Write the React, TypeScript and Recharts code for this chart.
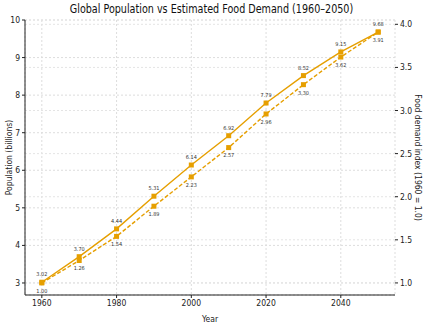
import { CartesianGrid, LabelList, Line, LineChart, XAxis, YAxis } from 'recharts'

const years = [1960, 1970, 1980, 1990, 2000, 2010, 2020, 2030, 2040, 2050]
const population = [3.02, 3.7, 4.44, 5.31, 6.14, 6.92, 7.79, 8.52, 9.15, 9.68]
const foodIndex = [1.0, 1.26, 1.54, 1.89, 2.23, 2.57, 2.96, 3.3, 3.62, 3.91]

const yearTicks = [1960, 1980, 2000, 2020, 2040]
const popTicks = [3, 4, 5, 6, 7, 8, 9, 10]
const foodTicks = [1.0, 1.5, 2.0, 2.5, 3.0, 3.5, 4.0]

const ORANGE = '#E69F00'
const FONT = '"DejaVu Sans Condensed", "DejaVu Sans", sans-serif'

const data = years.map((year, i) => ({ year, population: population[i], food: foodIndex[i] }))

const Square = (props: any) => {
  const { cx, cy } = props
  if (cx == null || cy == null) return null
  return <rect x={cx - 2.5} y={cy - 2.5} width={5} height={5} fill={ORANGE} />
}

const tick = { fontSize: 8.5, fill: '#222', fontFamily: FONT }
const labelStyle = { fontSize: 8.5, fill: '#222', fontFamily: FONT, textAnchor: 'middle' as const }
const pointLabel = { fontSize: 5.5, fill: '#333', fontFamily: FONT }

export default function App() {
  return (
    <div style={{ position: 'absolute', left: 0, top: 0, width: 423, height: 325, background: '#fff' }}>
      <div
        style={{
          position: 'absolute',
          top: 2,
          left: 0,
          width: 423,
          textAlign: 'center',
          fontFamily: 'DejaVu Sans, sans-serif',
          fontSize: 12,
          color: '#111',
          transform: 'scaleX(0.8)',
          whiteSpace: 'nowrap',
        }}
      >
        Global Population vs Estimated Food Demand (1960–2050)
      </div>
      <LineChart width={423} height={325} data={data} margin={{ top: 20, right: 0, bottom: 0, left: 0 }}>
        <CartesianGrid yAxisId="left" stroke="#ddd" strokeDasharray="2 2" />
        <CartesianGrid yAxisId="right" vertical={false} stroke="#e4e4e4" strokeDasharray="2 2" />
        <XAxis
          dataKey="year"
          type="number"
          domain={[1955.5, 2054.5]}
          ticks={yearTicks}
          tick={tick}
          height={30}
          axisLine={{ stroke: '#222' }}
          tickLine={{ stroke: '#222' }}
          tickSize={3}
          label={{ value: 'Year', position: 'insideBottom', offset: 3, style: labelStyle }}
        />
        <YAxis
          yAxisId="left"
          domain={[2.68, 10]}
          ticks={popTicks}
          tick={tick}
          width={25}
          axisLine={{ stroke: '#222' }}
          tickLine={{ stroke: '#222' }}
          tickSize={3}
          allowDataOverflow
          label={{ value: 'Population (billions)', angle: -90, position: 'insideLeft', offset: 9, style: labelStyle }}
        />
        <YAxis
          yAxisId="right"
          orientation="right"
          domain={[0.86, 4.05]}
          ticks={foodTicks}
          tickFormatter={(v: number) => v.toFixed(1)}
          tick={tick}
          width={28}
          axisLine={false}
          tickLine={{ stroke: '#222' }}
          tickSize={3}
          allowDataOverflow
          label={{ value: 'Food demand index (1960 = 1.0)', angle: 90, position: 'insideRight', offset: 5, style: labelStyle }}
        />
        <Line
          yAxisId="left"
          dataKey="population"
          stroke={ORANGE}
          strokeWidth={1.4}
          dot={<Square />}
          isAnimationActive={false}
        >
          <LabelList dataKey="population" position="top" offset={6} formatter={(v: any) => Number(v).toFixed(2)} style={pointLabel} />
        </Line>
        <Line
          yAxisId="right"
          dataKey="food"
          stroke={ORANGE}
          strokeWidth={1.4}
          strokeDasharray="4 2"
          dot={<Square />}
          isAnimationActive={false}
        >
          <LabelList dataKey="food" position="bottom" offset={6} formatter={(v: any) => Number(v).toFixed(2)} style={pointLabel} />
        </Line>
      </LineChart>
    </div>
  )
}
